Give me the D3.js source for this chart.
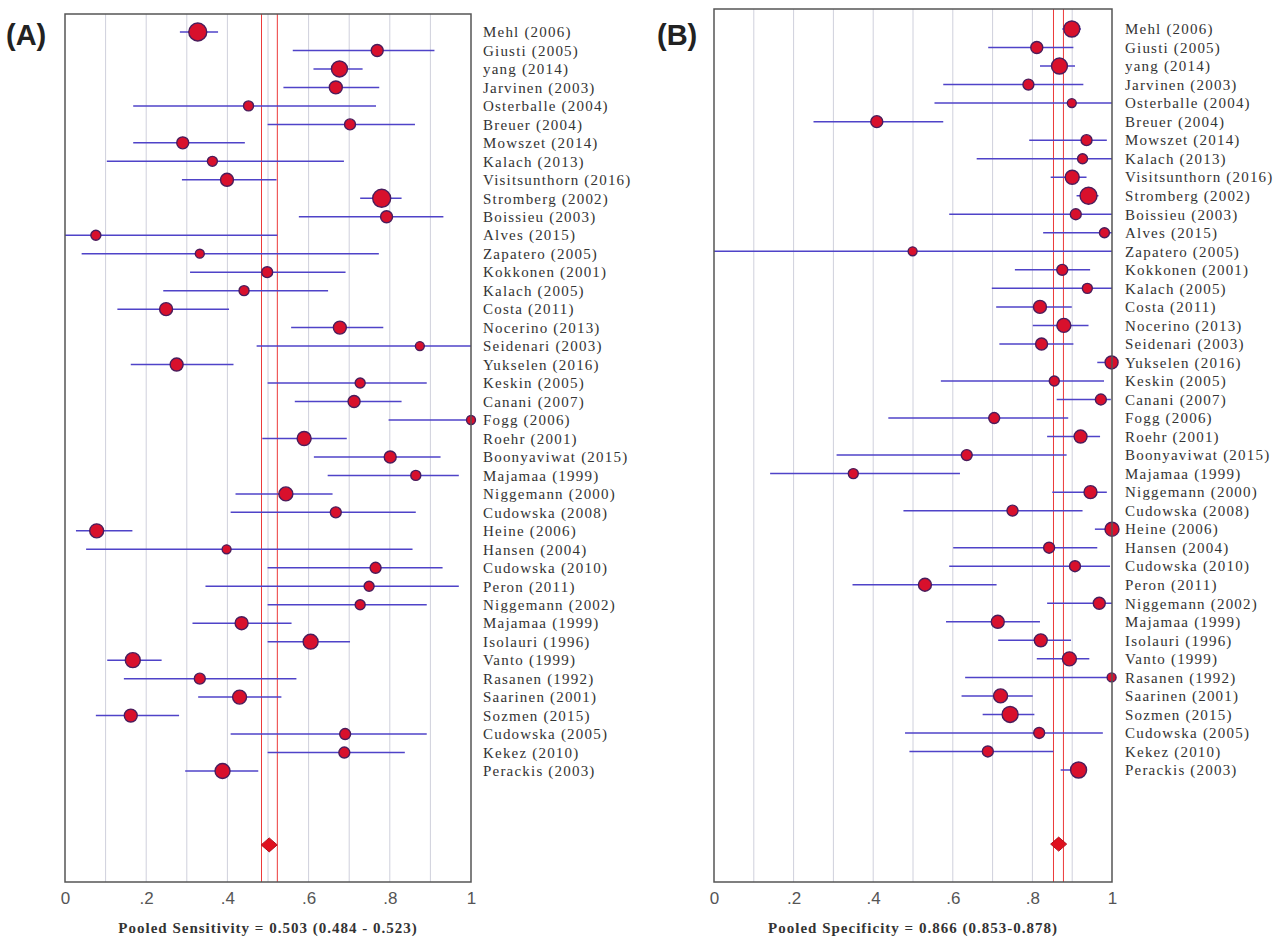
<!DOCTYPE html>
<html>
<head>
<meta charset="utf-8">
<script src="https://cdn.jsdelivr.net/npm/d3@7"></script>
<style>
  body { margin: 0; background: #fff; }
  svg { display: block; }
</style>
</head>
<body>
<svg width="1280" height="940"></svg>
<script>
var studies = ['Mehl (2006)', 'Giusti (2005)', 'yang (2014)', 'Jarvinen (2003)', 'Osterballe (2004)',
    'Breuer (2004)', 'Mowszet (2014)', 'Kalach (2013)', 'Visitsunthorn (2016)', 'Stromberg (2002)',
    'Boissieu (2003)', 'Alves (2015)', 'Zapatero (2005)', 'Kokkonen (2001)', 'Kalach (2005)',
    'Costa (2011)', 'Nocerino (2013)', 'Seidenari (2003)', 'Yukselen (2016)', 'Keskin (2005)',
    'Canani (2007)', 'Fogg (2006)', 'Roehr (2001)', 'Boonyaviwat (2015)', 'Majamaa (1999)',
    'Niggemann (2000)', 'Cudowska (2008)', 'Heine (2006)', 'Hansen (2004)', 'Cudowska (2010)',
    'Peron (2011)', 'Niggemann (2002)', 'Majamaa (1999)', 'Isolauri (1996)', 'Vanto (1999)',
    'Rasanen (1992)', 'Saarinen (2001)', 'Sozmen (2015)', 'Cudowska (2005)', 'Kekez (2010)',
    'Perackis (2003)'];

// sensitivity: estimate, lower, upper, relative weight
var sens = [0.327, 0.769, 0.676, 0.667, 0.452, 0.702, 0.290, 0.363, 0.399, 0.780,
    0.792, 0.076, 0.332, 0.498, 0.441, 0.249, 0.677, 0.874, 0.275, 0.727,
    0.712, 1.000, 0.589, 0.801, 0.864, 0.544, 0.667, 0.078, 0.398, 0.765,
    0.749, 0.727, 0.435, 0.605, 0.167, 0.332, 0.430, 0.162, 0.690, 0.688, 0.388];
var sensLo = [0.283, 0.561, 0.612, 0.538, 0.168, 0.499, 0.168, 0.103, 0.288, 0.727,
    0.576, 0.000, 0.041, 0.308, 0.242, 0.129, 0.557, 0.472, 0.162, 0.499,
    0.566, 0.797, 0.486, 0.613, 0.647, 0.420, 0.408, 0.027, 0.052, 0.499,
    0.346, 0.499, 0.314, 0.499, 0.104, 0.145, 0.328, 0.076, 0.408, 0.499, 0.296];
var sensHi = [0.377, 0.910, 0.733, 0.774, 0.766, 0.862, 0.443, 0.687, 0.521, 0.829,
    0.932, 0.523, 0.773, 0.691, 0.648, 0.404, 0.784, 1.000, 0.415, 0.891,
    0.829, 1.000, 0.694, 0.925, 0.970, 0.659, 0.864, 0.166, 0.856, 0.930,
    0.970, 0.891, 0.558, 0.702, 0.238, 0.570, 0.533, 0.281, 0.891, 0.837, 0.476];
var sensW = [81, 36, 64, 42, 25, 30, 36, 25, 42, 81,
    36, 25, 20, 30, 25, 42, 42, 20, 42, 25,
    36, 20, 49, 36, 25, 49, 30, 49, 20, 30,
    25, 25, 42, 56, 56, 30, 49, 42, 30, 30, 56];

// specificity: estimate, lower, upper, relative weight
var spec = [0.899, 0.811, 0.868, 0.790, 0.899, 0.409, 0.936, 0.926, 0.900, 0.941,
    0.909, 0.981, 0.499, 0.875, 0.938, 0.819, 0.879, 0.823, 0.999, 0.855,
    0.972, 0.704, 0.921, 0.635, 0.350, 0.946, 0.750, 1.000, 0.842, 0.907,
    0.530, 0.968, 0.713, 0.821, 0.893, 0.999, 0.720, 0.744, 0.817, 0.688, 0.916];
var specLo = [0.875, 0.689, 0.819, 0.576, 0.554, 0.250, 0.792, 0.660, 0.846, 0.911,
    0.591, 0.827, 0.000, 0.756, 0.698, 0.709, 0.801, 0.717, 0.963, 0.570,
    0.861, 0.438, 0.837, 0.308, 0.141, 0.850, 0.476, 0.957, 0.601, 0.591,
    0.348, 0.837, 0.583, 0.714, 0.811, 0.631, 0.622, 0.675, 0.480, 0.491, 0.871];
var specHi = [0.922, 0.903, 0.907, 0.928, 1.000, 0.576, 0.987, 1.000, 0.936, 0.966,
    1.000, 1.000, 1.000, 0.945, 1.000, 0.899, 0.941, 0.903, 1.000, 0.980,
    0.997, 0.890, 0.970, 0.886, 0.618, 0.987, 0.926, 1.000, 0.963, 0.995,
    0.710, 1.000, 0.819, 0.897, 0.943, 1.000, 0.801, 0.805, 0.977, 0.853, 0.936];
var specW = [64, 36, 64, 30, 20, 36, 30, 25, 49, 72,
    30, 25, 20, 30, 25, 42, 49, 36, 42, 25,
    30, 30, 42, 30, 25, 42, 30, 49, 30, 30,
    42, 36, 42, 42, 49, 20, 49, 64, 30, 30, 64];

var pooledSens = [0.503, 0.484, 0.523];
var pooledSpec = [0.866, 0.853, 0.878];
var ticks = [0, 0.2, 0.4, 0.6, 0.8, 1];
var grid = [0.1, 0.2, 0.3, 0.4, 0.5, 0.6, 0.7, 0.8, 0.9];

var svg = d3.select('svg');
var rScale = d3.scaleSqrt().domain([0, 100]).range([0, 10]);

function panel(opt) {
    var x = d3.scaleLinear().domain([0, 1]).range([opt.left, opt.right]);
    var y = d3.scaleLinear().domain([0, studies.length - 1]).range([opt.first, opt.last]);
    var step = (opt.last - opt.first) / (studies.length - 1);
    var yPooled = opt.first + (studies.length + 3) * step;
    var g = svg.append('g');

    // grid
    g.selectAll('line.grid').data(grid).enter().append('line')
        .attr('x1', d => x(d)).attr('x2', d => x(d))
        .attr('y1', opt.top).attr('y2', opt.bottom)
        .style('stroke', '#cfd0dc').style('stroke-width', 1);

    // pooled CI lines
    g.selectAll('line.pool').data(opt.pooled.slice(1)).enter().append('line')
        .attr('x1', d => x(d)).attr('x2', d => x(d))
        .attr('y1', opt.top).attr('y2', opt.bottom)
        .style('stroke', '#ec3a3a').style('stroke-width', 1);

    var rows = g.selectAll('g.row')
        .data(studies.map((s, i) => ({name: s, v: opt.est[i], lo: opt.lo[i], hi: opt.hi[i], w: opt.w[i], i: i})))
        .enter().append('g');
    rows.append('line')
        .attr('x1', d => x(d.lo)).attr('x2', d => x(d.hi))
        .attr('y1', d => y(d.i)).attr('y2', d => y(d.i))
        .style('stroke', '#4f43c8').style('stroke-width', 1.5);
    rows.append('circle')
        .attr('cx', d => x(d.v)).attr('cy', d => y(d.i))
        .attr('r', d => rScale(d.w))
        .style('fill', '#d8102c')
        .style('stroke', '#4a1d5c').style('stroke-width', 1.4);
    rows.append('text')
        .attr('x', opt.labelX).attr('y', d => y(d.i))
        .attr('dy', '0.35em')
        .style('font-family', '"Liberation Serif", "Times New Roman", serif')
        .style('font-size', '15px').style('letter-spacing', '1.2px').style('fill', '#333')
        .text(d => d.name);

    // pooled diamond
    var px = x(opt.pooled[0]);
    g.append('path')
        .attr('d', `M${px - 8},${yPooled} L${px},${yPooled - 7} L${px + 8},${yPooled} L${px},${yPooled + 7} Z`)
        .style('fill', '#e0101e').style('stroke', '#b0101e');

    // frame
    g.append('rect')
        .attr('x', opt.left).attr('y', opt.top)
        .attr('width', opt.right - opt.left).attr('height', opt.bottom - opt.top)
        .style('fill', 'none').style('stroke', '#555').style('stroke-width', 1.5);

    // axis
    var axis = d3.axisBottom(x).tickValues(ticks).tickSize(0).tickPadding(10)
        .tickFormat(d => d === 0 ? '0' : d === 1 ? '1' : d3.format('.1f')(d).replace(/^0/, ''));
    var ax = g.append('g').attr('transform', `translate(0,${opt.bottom})`).call(axis);
    ax.select('.domain').remove();
    ax.selectAll('text')
        .style('font-family', 'Arial, "Liberation Sans", sans-serif')
        .style('font-size', '17px').style('fill', '#555');

    g.append('text')
        .attr('x', (opt.left + opt.right) / 2).attr('y', 933)
        .style('text-anchor', 'middle')
        .style('font-family', '"Liberation Serif", "Times New Roman", serif')
        .style('font-weight', 'bold').style('font-size', '15px').style('letter-spacing', '1px')
        .style('fill', '#333')
        .text(opt.title);

    g.append('text')
        .attr('x', opt.tagX).attr('y', 45)
        .style('font-family', 'Arial, "Liberation Sans", sans-serif')
        .style('font-weight', 'bold').style('font-size', '29px').style('fill', '#222')
        .text(opt.tag);
}

panel({left: 65, right: 471, top: 14, bottom: 882, first: 32, last: 771, labelX: 483,
    est: sens, lo: sensLo, hi: sensHi, w: sensW, pooled: pooledSens, tag: '(A)', tagX: 6,
    title: 'Pooled Sensitivity = 0.503 (0.484 - 0.523)'});
panel({left: 714, right: 1112, top: 9, bottom: 882, first: 29, last: 770, labelX: 1125,
    est: spec, lo: specLo, hi: specHi, w: specW, pooled: pooledSpec, tag: '(B)', tagX: 657,
    title: 'Pooled Specificity = 0.866 (0.853-0.878)'});
</script>
</body>
</html>
